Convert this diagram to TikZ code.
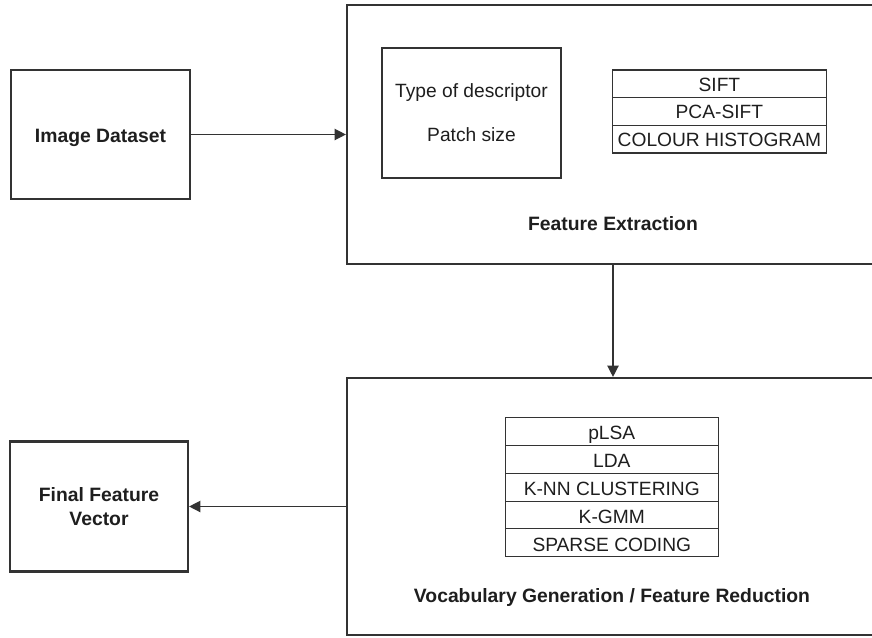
\documentclass[tikz,border=0pt]{standalone}
\usepackage{fontspec}
\setmainfont{Liberation Sans}
\usetikzlibrary{arrows.meta,positioning}
\definecolor{edge}{HTML}{333333}
\definecolor{ink}{HTML}{1E1E1E}
\begin{document}
\begin{tikzpicture}[x=0.75pt,y=-0.75pt,
  font=\fontsize{14.4}{17.5}\selectfont, text=ink,
  block/.style={draw=edge, line width=1.6pt, inner sep=0pt},
  cellA/.style={draw=edge, line width=0.8pt, outer sep=0pt, minimum width=160pt, minimum height=20.75pt,
                inner sep=0pt, text height=10.8pt, text depth=0pt},
  cellB/.style={draw=edge, line width=0.8pt, outer sep=0pt, minimum width=159.75pt, minimum height=20.85pt,
                inner sep=0pt, text height=12.4pt, text depth=0pt},
  boldtext/.style={font=\fontsize{14.5}{17.5}\selectfont\bfseries, align=center},
  flow/.style={draw=edge, line width=1pt, -{Triangle[length=8.5pt,width=8.5pt]}}]
\useasboundingbox (0,0) rectangle (872,637);
\clip (0,0) rectangle (872,637);

% left column
\node[block, boldtext, minimum width=134.25pt, minimum height=96.75pt] (img) at (100.5,134.5) {};
\node[boldtext] (imgtxt) at ([yshift=-2.2pt]img.center) {Image Dataset};
\node[block, boldtext, minimum width=133.5pt, minimum height=97.5pt] (final) at (99,506.5) {Final Feature\\Vector};

% feature extraction stage
\node[block, minimum width=399pt, minimum height=194.25pt] (feat) at (613,134.5) {};
\node[block, minimum width=134.25pt, minimum height=97.5pt] (desc) at (471.5,113) {};
\node (dtype) at ([yshift=15pt]desc.center) {Type of descriptor};
\node (dpatch) at ([yshift=-16.5pt]desc.center) {Patch size};
\node[cellA] (sift) at (719.4,83.83) {SIFT};
\node[cellA, below=0pt of sift] (pcasift) {PCA-SIFT};
\node[cellA, below=0pt of pcasift] (hist) {COLOUR HISTOGRAM};
\node[boldtext, anchor=base] (featlbl) at (613,230) {Feature Extraction};

% vocabulary stage
\node[block, minimum width=399pt, minimum height=192.75pt] (vocab) at (613,506.5) {};
\node[cellB] (plsa) at (611.8,431.6) {pLSA};
\node[cellB, below=0pt of plsa] (lda) {LDA};
\node[cellB, below=0pt of lda] (knn) {K-NN CLUSTERING};
\node[cellB, below=0pt of knn] (kgmm) {K-GMM};
\node[cellB, below=0pt of kgmm] (sparse) {SPARSE CODING};
\node[boldtext, anchor=base] (vocablbl) at (612,602.5) {Vocabulary Generation / Feature Reduction};

% connectors
\draw[flow] (img.east) -- (feat.west);
\draw[flow] (feat.south) -- (vocab.north);
\draw[flow] (vocab.west) -- (final.east);
\end{tikzpicture}
\end{document}
